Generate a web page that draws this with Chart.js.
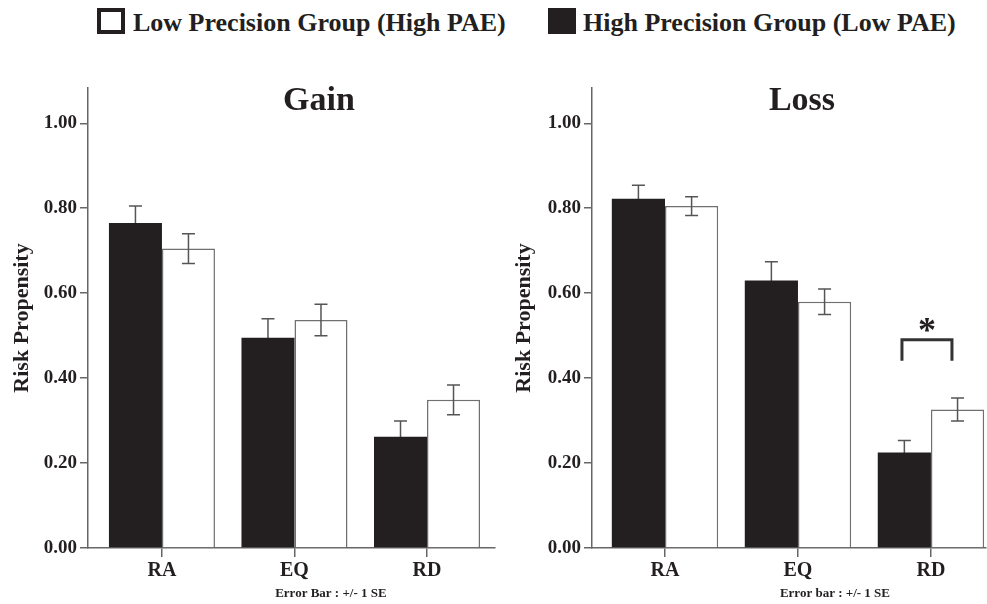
<!DOCTYPE html>
<html lang="en">
<head>
  <meta charset="UTF-8" />
  <title>Risk Propensity: Gain vs Loss</title>
  <script src="https://cdn.jsdelivr.net/npm/chart.js"></script>
  <style>
    body {
      margin: 0;
      background: #ffffff;
      width: 987px;
      height: 604px;
      position: relative;
      overflow: hidden;
      font-family: 'Liberation Serif', 'Times New Roman', serif;
      color: #231f20;
    }
    .legend-box {
      position: absolute;
      top: 8px;
      width: 28px;
      height: 26px;
      box-sizing: border-box;
    }
    .legend-text {
      position: absolute;
      top: 10px;
      font-size: 26px;
      line-height: 26px;
      font-weight: bold;
      white-space: nowrap;
    }
    .panel {
      position: absolute;
      top: 0;
    }
  </style>
</head>
<body>
  <!-- shared legend across both panels -->
  <div class="legend-box" style="left:97px; border:4px solid #231f20; background:#fff;"></div>
  <div class="legend-text" style="left:133px;">Low Precision Group (High PAE)</div>
  <div class="legend-box" style="left:548px; background:#231f20;"></div>
  <div class="legend-text" style="left:583px;">High Precision Group (Low PAE)</div>

  <div class="panel" style="left:0;"><canvas id="gainChart" width="496" height="604"></canvas></div>
  <div class="panel" style="left:496px;"><canvas id="lossChart" width="491" height="604"></canvas></div>

  <script>
    const categories = ['RA', 'EQ', 'RD'];
    const yTicks = [0, 0.2, 0.4, 0.6, 0.8, 1.0];

    // Gain condition
    const gainHigh = [0.765, 0.495, 0.262];
    const gainHighSe = [0.040, 0.045, 0.037];
    const gainLow = [0.705, 0.537, 0.349];
    const gainLowSe = [0.035, 0.037, 0.035];

    // Loss condition
    const lossHigh = [0.822, 0.630, 0.225];
    const lossHighSe = [0.032, 0.044, 0.028];
    const lossLow = [0.805, 0.580, 0.326];
    const lossLowSe = [0.022, 0.030, 0.027];

    const ink = '#231f20';
    const axisGray = '#666666';
    const serif = "'Liberation Serif', 'Times New Roman', serif";

    Chart.defaults.font.family = serif;
    Chart.defaults.color = ink;

    // error bars: black bars draw theirs underneath so only the upper whisker shows
    function drawErrors(chart, dsIndex) {
      const ds = chart.data.datasets[dsIndex];
      const meta = chart.getDatasetMeta(dsIndex);
      const y = chart.scales.y;
      const ctx = chart.ctx;
      ctx.save();
      ctx.strokeStyle = '#555555';
      ctx.lineWidth = 1.5;
      meta.data.forEach((bar, i) => {
        const v = ds.data[i].y;
        const top = y.getPixelForValue(v + ds.se[i]);
        const bot = y.getPixelForValue(v - ds.se[i]);
        ctx.beginPath();
        ctx.moveTo(bar.x, top); ctx.lineTo(bar.x, bot);
        ctx.moveTo(bar.x - 6.5, top); ctx.lineTo(bar.x + 6.5, top);
        ctx.moveTo(bar.x - 6.5, bot); ctx.lineTo(bar.x + 6.5, bot);
        ctx.stroke();
      });
      ctx.restore();
    }

    const errorBars = {
      id: 'errorBars',
      beforeDatasetsDraw(chart) { drawErrors(chart, 0); },
      afterDatasetsDraw(chart) { drawErrors(chart, 1); }
    };

    // panel title, footnote and significance bracket
    const panelExtras = {
      id: 'panelExtras',
      afterDraw(chart, args, opts) {
        const ctx = chart.ctx;
        const x = chart.scales.x, y = chart.scales.y;
        ctx.save();
        ctx.fillStyle = ink;
        ctx.textAlign = 'center';
        ctx.textBaseline = 'middle';
        ctx.font = 'bold 34px ' + serif;
        ctx.fillText(opts.title, x.getPixelForValue(opts.titleAt[0]), y.getPixelForValue(opts.titleAt[1]));
        ctx.font = 'bold 13px ' + serif;
        ctx.fillText(opts.note, x.getPixelForValue(opts.noteAt), chart.chartArea.bottom + 46);
        if (opts.bracket) {
          const b = opts.bracket;
          const x0 = x.getPixelForValue(b.from), x1 = x.getPixelForValue(b.to);
          const yt = y.getPixelForValue(b.top), yb = y.getPixelForValue(b.bottom);
          ctx.strokeStyle = '#333333';
          ctx.lineWidth = 3;
          ctx.beginPath();
          ctx.moveTo(x0, yb); ctx.lineTo(x0, yt); ctx.lineTo(x1, yt); ctx.lineTo(x1, yb);
          ctx.stroke();
          ctx.font = 'bold 36px ' + serif;
          ctx.textBaseline = 'alphabetic';
          ctx.fillText('*', (x0 + x1) / 2, yt + 2);
        }
        ctx.restore();
      }
    };

    function makePanel(id, high, highSe, low, lowSe, cfg) {
      return new Chart(document.getElementById(id), {
        type: 'bar',
        data: {
          datasets: [
            {
              label: 'High Precision Group (Low PAE)',
              data: high.map((v, i) => ({ x: i, y: v })),
              se: highSe,
              backgroundColor: ink,
              borderWidth: 0
            },
            {
              label: 'Low Precision Group (High PAE)',
              data: low.map((v, i) => ({ x: i, y: v })),
              se: lowSe,
              backgroundColor: '#ffffff',
              borderColor: '#707070',
              borderWidth: 1.5
            }
          ]
        },
        options: {
          responsive: false,
          animation: false,
          devicePixelRatio: 1,
          categoryPercentage: 0.8,
          barPercentage: 1.0,
          layout: { padding: { left: 0, top: 88, right: 1, bottom: 0 } },
          plugins: {
            legend: { display: false },
            tooltip: { enabled: false },
            panelExtras: cfg.extras
          },
          scales: {
            x: {
              type: 'linear',
              min: cfg.xMin,
              max: cfg.xMax,
              offset: false,
              afterBuildTicks: (s) => { s.ticks = categories.map((c, i) => ({ value: i })); },
              afterFit: (s) => { s.height = 56; },
              grid: { drawOnChartArea: false, offset: false, tickLength: 9, color: axisGray, lineWidth: 1.5 },
              border: { color: axisGray, width: 1.5 },
              ticks: {
                font: { size: 20, weight: 'bold' },
                padding: 2,
                maxRotation: 0,
                callback: (v) => categories[v]
              }
            },
            y: {
              min: 0,
              max: 1.083,
              afterBuildTicks: (s) => { s.ticks = yTicks.map(v => ({ value: v })); },
              afterFit: (s) => { s.width = cfg.yWidth; },
              grid: { drawOnChartArea: false, tickLength: 8, color: axisGray, lineWidth: 1.5 },
              border: { color: axisGray, width: 1.5 },
              ticks: {
                font: { size: 19, weight: 'bold' },
                padding: 3,
                callback: (v) => v.toFixed(2)
              },
              title: {
                display: true,
                text: 'Risk Propensity',
                font: { size: 22, weight: 'bold' },
                padding: { top: cfg.titlePad, bottom: 0 }
              }
            }
          }
        },
        plugins: [errorBars, panelExtras]
      });
    }

    makePanel('gainChart', gainHigh, gainHighSe, gainLow, gainLowSe, {
      xMin: -0.558, xMax: 2.513, yWidth: 88, titlePad: 9,
      extras: { title: 'Gain', titleAt: [1.185, 1.053], note: 'Error Bar : +/- 1 SE', noteAt: 1.275 }
    });

    makePanel('lossChart', lossHigh, lossHighSe, lossLow, lossLowSe, {
      xMin: -0.549, xMax: 2.414, yWidth: 96, titlePad: 15,
      extras: {
        title: 'Loss', titleAt: [1.03, 1.053], note: 'Error bar : +/- 1 SE', noteAt: 1.278,
        bracket: { from: 1.782, to: 2.158, top: 0.49, bottom: 0.441 }
      }
    });
  </script>
</body>
</html>
